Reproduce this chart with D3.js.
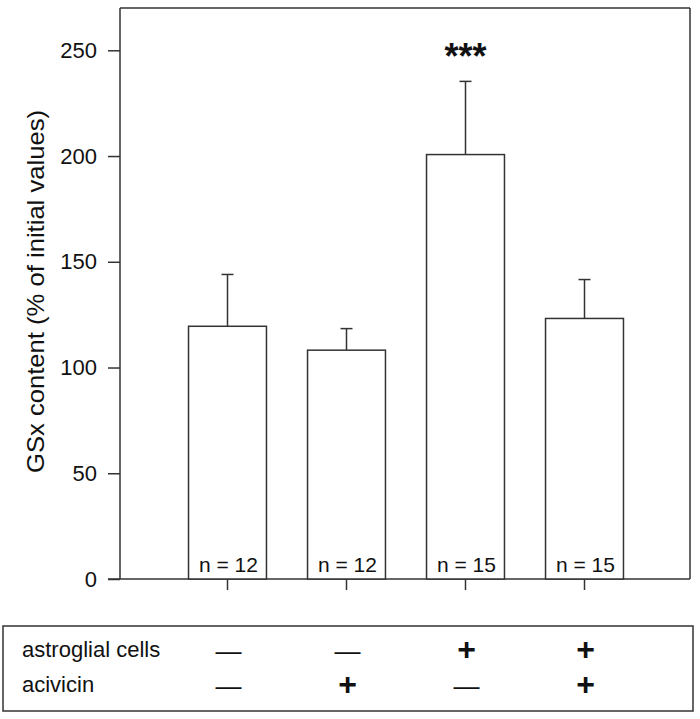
<!DOCTYPE html>
<html>
<head>
<meta charset="utf-8">
<script src="https://cdn.jsdelivr.net/npm/d3@7"></script>
<style>
  html, body { margin: 0; padding: 0; background: #fff; }
  svg { display: block; }
  text { font-family: "Liberation Sans", Arial, Helvetica, sans-serif; fill: #111; }
</style>
</head>
<body>
<svg id="chart" width="700" height="719"></svg>
<script>
// ---- data ----
const categories = ["ctrl", "acivicin", "astro", "astro+acivicin"];
const means = [119.5, 108.2, 200.7, 123.2];
const sems = [24.5, 10.2, 34.6, 18.4];
const nLabels = ["n = 12", "n = 12", "n = 15", "n = 15"];
const significance = ["", "", "***", ""];
const astroglialRow = ["\u2014", "\u2014", "+", "+"];
const acivicinRow = ["\u2014", "+", "\u2014", "+"];
const rowLabels = ["astroglial cells", "acivicin"];
const yTicks = [0, 50, 100, 150, 200, 250];
const yLabel = "GSx content (% of initial values)";

// ---- layout ----
const svg = d3.select("#chart");
const frame = { left: 120, right: 690, top: 8, bottom: 579 };
const ink = "#333";

const y = d3.scaleLinear().domain([0, 270]).range([frame.bottom, frame.top]);
const x = d3.scaleBand().domain(categories).range([168, 644])
  .paddingInner(0.345).paddingOuter(0.1725);

// frame
svg.append("line").attr("x1", frame.left).attr("x2", frame.right)
  .attr("y1", frame.top).attr("y2", frame.top).attr("stroke", ink).attr("stroke-width", 1.5);
svg.append("line").attr("x1", frame.right).attr("x2", frame.right)
  .attr("y1", frame.top).attr("y2", frame.bottom).attr("stroke", ink).attr("stroke-width", 1.5);
svg.append("line").attr("x1", frame.left).attr("x2", frame.left)
  .attr("y1", frame.top).attr("y2", frame.bottom).attr("stroke", ink).attr("stroke-width", 1.5);
svg.append("line").attr("x1", frame.left - 12).attr("x2", frame.right)
  .attr("y1", frame.bottom).attr("y2", frame.bottom).attr("stroke", ink).attr("stroke-width", 1.5);

// y axis
const yAxis = svg.append("g").attr("transform", `translate(${frame.left},0)`)
  .call(d3.axisLeft(y).tickValues(yTicks).tickSize(12).tickPadding(11));
yAxis.select(".domain").remove();
yAxis.selectAll(".tick line").attr("stroke", ink).attr("stroke-width", 1.5);
yAxis.selectAll(".tick text").style("font-family", "'Liberation Sans', Arial, sans-serif")
  .style("font-size", "22px").attr("fill", "#111");

// x axis ticks
const xAxis = svg.append("g").attr("transform", `translate(0,${frame.bottom})`)
  .call(d3.axisBottom(x).tickSize(11).tickFormat(""));
xAxis.select(".domain").remove();
xAxis.selectAll(".tick line").attr("stroke", ink).attr("stroke-width", 1.5);

// y label
svg.append("text")
  .attr("transform", `translate(44,${(110 + 473) / 2}) rotate(-90)`)
  .attr("text-anchor", "middle")
  .attr("textLength", 363).attr("lengthAdjust", "spacingAndGlyphs")
  .style("font-size", "24px")
  .text(yLabel);

// error bars (upper only)
const cap = 6;
const eb = svg.append("g");
categories.forEach((c, i) => {
  const cx = x(c) + x.bandwidth() / 2;
  eb.append("line").attr("x1", cx).attr("x2", cx)
    .attr("y1", y(means[i])).attr("y2", y(means[i] + sems[i]))
    .attr("stroke", ink).attr("stroke-width", 1.5);
  eb.append("line").attr("x1", cx - cap).attr("x2", cx + cap)
    .attr("y1", y(means[i] + sems[i])).attr("y2", y(means[i] + sems[i]))
    .attr("stroke", ink).attr("stroke-width", 1.5);
});

// bars
svg.append("g").selectAll("rect").data(categories).join("rect")
  .attr("x", c => x(c)).attr("width", x.bandwidth())
  .attr("y", (c, i) => y(means[i]))
  .attr("height", (c, i) => y(0) - y(means[i]))
  .attr("fill", "#fff").attr("stroke", ink).attr("stroke-width", 1.5);

// n labels
svg.append("g").selectAll("text").data(categories).join("text")
  .attr("x", c => x(c) + x.bandwidth() / 2 + 1)
  .attr("y", 572)
  .attr("text-anchor", "middle")
  .style("font-size", "21px")
  .text((c, i) => nLabels[i]);

// significance
svg.append("g").selectAll("text").data(categories).join("text")
  .attr("x", c => x(c) + x.bandwidth() / 2)
  .attr("y", (c, i) => y(means[i] + sems[i]) - 12)
  .attr("text-anchor", "middle")
  .style("font-size", "36px").style("font-weight", "bold")
  .text((c, i) => significance[i]);

// condition table
svg.append("rect").attr("x", 3).attr("y", 626).attr("width", 690).attr("height", 85)
  .attr("fill", "none").attr("stroke", ink).attr("stroke-width", 1.5);

const rows = [astroglialRow, acivicinRow];
const rowBase = [657, 692];
rows.forEach((row, r) => {
  svg.append("text").attr("x", 22).attr("y", rowBase[r])
    .style("font-size", "22px").text(rowLabels[r]);
  svg.append("g").selectAll("text").data(categories).join("text")
    .attr("x", c => x(c) + x.bandwidth() / 2 + 1)
    .attr("y", (c, i) => row[i] === "+" ? rowBase[r] + 3 : rowBase[r] + 3)
    .attr("text-anchor", "middle")
    .style("font-size", (c, i) => row[i] === "+" ? "32px" : "26px")
    .style("font-weight", (c, i) => row[i] === "+" ? "bold" : "normal")
    .text((c, i) => row[i]);
});
</script>
</body>
</html>
